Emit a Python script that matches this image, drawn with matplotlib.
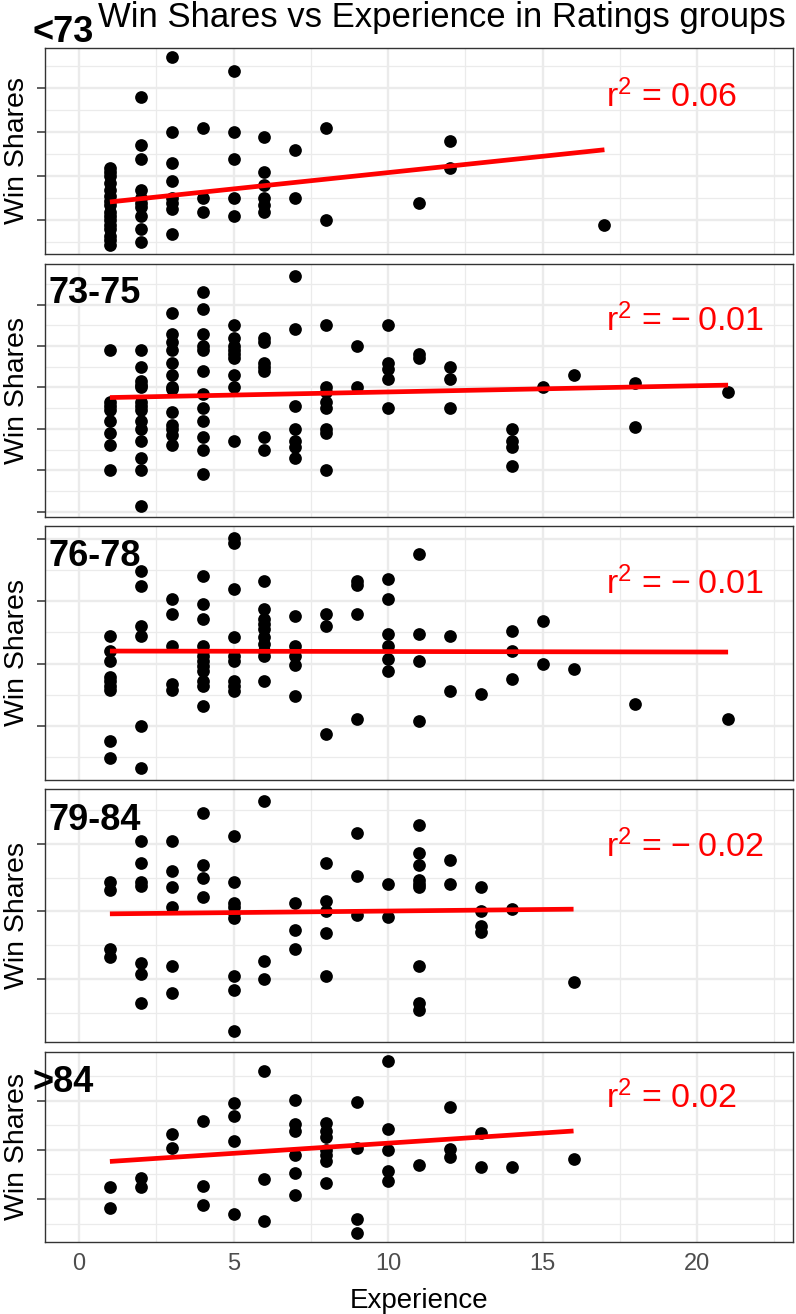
import numpy as np
import matplotlib
matplotlib.use('Agg')
import matplotlib.pyplot as plt
from matplotlib.ticker import MultipleLocator

plt.rcParams['font.family'] = ['Liberation Sans', 'DejaVu Sans']
plt.rcParams['mathtext.fontset'] = 'custom'
plt.rcParams['mathtext.rm'] = 'Liberation Sans'
plt.rcParams['mathtext.it'] = 'Liberation Sans:italic'

# ---------------- data ----------------
groups = ['<73', '73-75', '76-78', '79-84', '>84']
r2_values = [0.06, -0.01, -0.01, -0.02, 0.02]
# lm line per group (intercept, slope)
fit_intercept = [0.69, 5.48, 6.01, 4.80, 3.62]
fit_slope = [0.148, 0.030, -0.004, 0.023, 0.207]

exp_lt73 = [1, 1, 1, 1, 1, 1, 1, 1, 1, 1, 1, 1, 1, 1, 1, 1,
            2, 2, 2, 2, 2, 2, 2, 2, 2, 2,
            3, 3, 3, 3, 3, 3, 3, 3,
            4, 4, 4,
            5, 5, 5, 5, 5,
            6, 6, 6, 6, 6, 6,
            7, 7, 8, 8, 11, 12, 12, 17]
ws_lt73 = [2.4, 2.2, 2.0, 1.7, 1.4, 1.1, 0.9, 0.7, 0.4, 0.2, 0.0, -0.2, -0.4, -0.7, -0.9, -1.1,
           5.6, 3.4, 2.8, 1.4, 1.0, 0.8, 0.6, 0.2, -0.4, -1.0,
           7.4, 4.0, 2.6, 1.8, 1.0, 0.8, 0.5, -0.6,
           4.2, 1.0, 0.4,
           6.8, 4.0, 2.8, 1.0, 0.2,
           3.8, 2.2, 1.6, 1.0, 0.7, 0.4,
           3.2, 1.0, 4.2, 0.0, 0.8, 3.6, 2.4, -0.2]

exp_73_75 = [1, 1, 1, 1, 1, 1, 1, 1,
             2, 2, 2, 2, 2, 2, 2, 2, 2, 2, 2, 2, 2, 2,
             3, 3, 3, 3, 3, 3, 3, 3, 3, 3, 3, 3, 3,
             4, 4, 4, 4, 4, 4, 4, 4, 4, 4, 4, 4,
             5, 5, 5, 5, 5, 5, 5, 5, 5,
             6, 6, 6, 6, 6, 6, 6,
             7, 7, 7, 7, 7, 7, 7,
             8, 8, 8, 8, 8, 8, 8, 8,
             9, 9, 10, 10, 10, 10, 10, 11, 11, 12, 12, 12,
             14, 14, 14, 14, 15, 16, 18, 18, 21]
ws_73_75 = [7.8, 5.3, 5.1, 4.9, 4.4, 3.8, 3.2, 2.0,
            7.8, 7.0, 6.3, 6.1, 6.0, 5.3, 5.1, 4.9, 4.4, 4.0, 3.4, 2.6, 2.0, 0.3,
            9.6, 8.6, 8.2, 7.8, 7.2, 6.6, 6.0, 5.9, 4.8, 4.2, 4.0, 3.7, 3.2,
            10.6, 9.8, 8.6, 8.0, 7.8, 6.8, 5.7, 5.0, 4.4, 3.6, 3.0, 1.8,
            9.0, 8.4, 8.0, 7.8, 7.6, 7.4, 6.6, 6.0, 3.4,
            8.4, 8.2, 7.2, 7.0, 6.8, 3.6, 3.0,
            11.4, 8.8, 5.1, 4.0, 3.4, 3.1, 2.6,
            9.0, 6.0, 5.8, 5.3, 5.0, 4.0, 3.8, 2.0,
            8.0, 6.0, 9.0, 7.2, 6.9, 6.4, 5.0, 7.6, 7.4, 7.0, 6.4, 5.0,
            4.0, 3.4, 3.1, 2.2, 6.0, 6.6, 6.2, 4.1, 5.8]

exp_76_78 = [1, 1, 1, 1, 1, 1, 1, 1, 1,
             2, 2, 2, 2, 2, 2,
             3, 3, 3, 3, 3,
             4, 4, 4, 4, 4, 4, 4, 4, 4, 4, 4, 4,
             5, 5, 5, 5, 5, 5, 5, 5, 5,
             6, 6, 6, 6, 6, 6, 6, 6, 6, 6,
             7, 7, 7, 7, 7,
             8, 8, 8, 9, 9, 9, 9,
             10, 10, 10, 10, 10, 10, 11, 11, 11, 11,
             12, 12, 13, 14, 14, 14, 15, 15, 16, 18, 21]
ws_76_78 = [7.2, 6.0, 5.2, 3.9, 3.6, 3.2, 2.9, -1.2, -2.6,
            12.4, 11.2, 8.0, 7.2, 0.0, -3.4,
            10.2, 9.0, 6.4, 3.4, 2.9,
            12.0, 9.8, 8.6, 6.4, 6.0, 5.6, 5.2, 4.8, 4.4, 3.6, 3.2, 1.6,
            15.1, 14.7, 11.0, 7.1, 5.6, 5.2, 3.6, 3.2, 2.8,
            11.6, 9.4, 8.6, 8.2, 7.8, 7.1, 6.6, 6.0, 5.6, 3.6,
            8.8, 6.4, 5.6, 4.9, 2.4,
            9.0, 8.0, -0.6, 11.6, 11.3, 9.0, 0.6,
            11.8, 10.2, 7.4, 6.4, 5.4, 4.4, 13.8, 7.4, 5.2, 0.4,
            7.2, 2.8, 2.6, 7.6, 6.0, 3.8, 8.4, 5.0, 4.6, 1.8, 0.6]

exp_79_84 = [1, 1, 1, 1,
             2, 2, 2, 2, 2, 2, 2,
             3, 3, 3, 3, 3, 3,
             4, 4, 4, 4,
             5, 5, 5, 5, 5, 5, 5, 5, 5,
             6, 6, 6, 7, 7, 7,
             8, 8, 8, 8, 8, 9, 9, 9, 10, 10,
             11, 11, 11, 11, 11, 11, 11, 11, 11,
             12, 12, 13, 13, 13, 13, 14, 16]
ws_79_84 = [7.2, 6.6, 2.2, 1.6,
            10.2, 8.6, 7.2, 6.9, 1.2, 0.4, -1.8,
            10.2, 8.0, 6.8, 5.3, 1.0, -1.0,
            12.3, 8.4, 7.5, 6.1,
            10.6, 7.2, 5.6, 5.3, 4.9, 4.5, 0.2, -0.8, -3.8,
            13.2, 1.3, 0.0, 5.6, 3.6, 2.2,
            8.6, 5.8, 5.0, 3.4, 0.2, 10.8, 7.6, 4.7, 7.0, 4.6,
            11.4, 9.3, 8.4, 7.3, 7.0, 6.8, 1.0, -1.8, -2.3,
            8.8, 7.0, 6.8, 5.0, 3.9, 3.5, 5.2, -0.2]

exp_gt84 = [1, 1, 2, 2, 3, 3, 4, 4, 4, 5, 5, 5, 5, 6, 6, 6,
            7, 7, 7, 7, 7, 7, 8, 8, 8, 8, 8, 8, 8,
            9, 9, 9, 9, 10, 10, 10, 10, 10,
            11, 12, 12, 12, 13, 13, 14, 16]
ws_gt84 = [1.2, -0.9, 2.1, 1.2, 6.6, 5.2, 8.0, 1.3, -0.6, 9.8, 8.5, 5.9, -1.5, 13.0, 2.0, -2.2,
           10.1, 7.6, 6.9, 4.5, 2.6, 0.4, 7.7, 6.9, 6.3, 5.0, 4.5, 3.9, 1.6,
           9.9, 5.2, -2.0, -3.5, 14.1, 7.1, 5.0, 2.9, 1.8,
           3.5, 9.4, 5.1, 4.3, 6.7, 3.3, 3.3, 4.1]

experience = [exp_lt73, exp_73_75, exp_76_78, exp_79_84, exp_gt84]
win_shares = [ws_lt73, ws_73_75, ws_76_78, ws_79_84, ws_gt84]

# ---------------- layout (pixels of the 796x1314 figure) ----------------
W, H = 796, 1314
panel_px = [(48, 254), (264, 517), (526, 780), (789, 1042), (1052, 1242)]
label_px = [(33, 42), (48, 303), (48, 566), (48, 830), (33, 1092)]
r2_ypos = [0.714, 0.735, 0.732, 0.731, 0.705]
y_steps = [2, 2, 5, 5, 5]

fig = plt.figure(figsize=(W / 100, H / 100), dpi=100)

for i, g in enumerate(groups):
    top, bottom = panel_px[i]
    ax = fig.add_axes([45 / W, 1 - bottom / H, 748 / W, (bottom - top) / H])

    x = np.array(experience[i])
    y = np.array(win_shares[i])
    ax.scatter(x, y, s=84, c='black', linewidths=0, zorder=3)

    # linear fit line over the group's experience range
    xs = np.array([x.min(), x.max()])
    ax.plot(xs, fit_intercept[i] + fit_slope[i] * xs, color='red', lw=3.4,
            solid_capstyle='butt', zorder=4)

    ax.set_xlim(-1.1, 23.1)
    ax.margins(y=0.05)
    ax.xaxis.set_major_locator(MultipleLocator(5))
    ax.xaxis.set_minor_locator(MultipleLocator(2.5))
    ax.yaxis.set_major_locator(MultipleLocator(y_steps[i]))
    ax.yaxis.set_minor_locator(MultipleLocator(y_steps[i] / 2))

    # grid like theme_bw
    ax.set_axisbelow(True)
    ax.grid(True, which='major', color='#EBEBEB', lw=1.7)
    ax.grid(True, which='minor', color='#EBEBEB', lw=0.9)
    for s in ax.spines.values():
        s.set_color('#333333')
        s.set_linewidth(1.0)

    ax.tick_params(axis='y', which='major', length=6, width=1.1, color='#333333', labelleft=False)
    ax.tick_params(axis='y', which='minor', length=0)
    ax.tick_params(axis='x', which='both', length=0, labelbottom=(i == len(groups) - 1),
                   labelsize=17, labelcolor='#4D4D4D', pad=8)

    ax.set_ylabel('Win Shares', fontsize=20.5)
    ax.yaxis.set_label_coords(-0.02, 0.5)

    # r squared note
    v = r2_values[i]
    if v < 0:
        txt = 'r$^2$ = \u2212\u2009%.2f' % abs(v)
    else:
        txt = 'r$^2$ = %.2f' % v
    ax.text(17.05, r2_ypos[i], txt, color='red', fontsize=24.5, ha='left', va='baseline',
            transform=ax.get_xaxis_transform())

    # group tag
    lx, ly = label_px[i]
    fig.text(lx / W, 1 - ly / H, g, fontsize=26, fontweight='bold', ha='left', va='baseline')

fig.text(442 / W, 1 - 27 / H, 'Win Shares vs Experience in Ratings groups',
         fontsize=25, ha='center', va='baseline')
fig.text(419 / W, 1 - 1308 / H, 'Experience', fontsize=20, ha='center', va='baseline')

fig.savefig('out.png', dpi=100)
